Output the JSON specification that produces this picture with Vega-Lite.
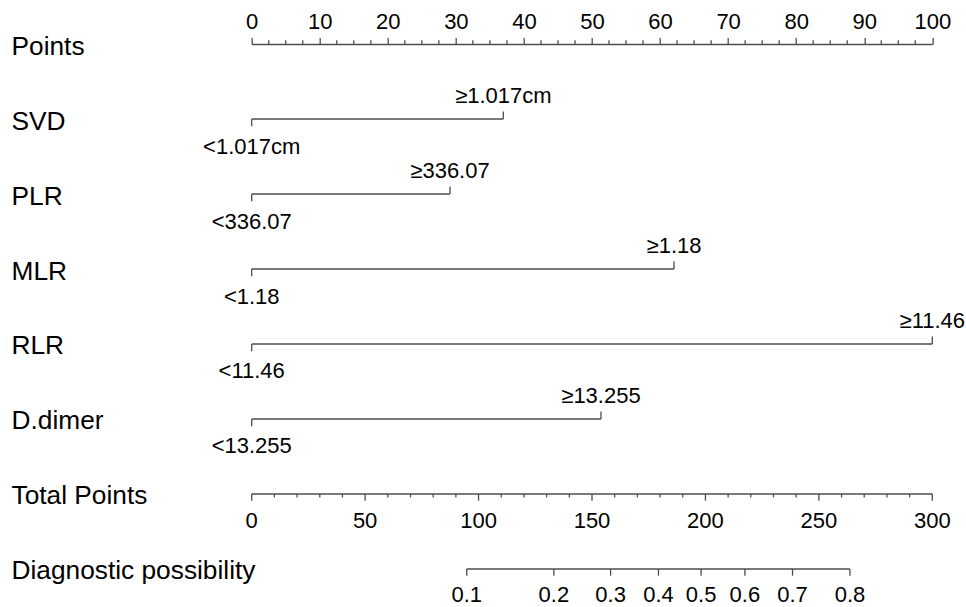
{
  "$schema": "https://vega.github.io/schema/vega-lite/v6.json",
  "width": 680.6,
  "height": 525,
  "autosize": {"type": "none"},
  "padding": {"left": 251.7, "top": 44, "right": 34, "bottom": 38},
  "background": "white",
  "config": {
    "view": {"stroke": null},
    "font": "Liberation Sans",
    "text": {"font": "Liberation Sans", "fontSize": 22, "color": "#000000"},
    "axisY": {
      "domain": false, "ticks": false, "tickSize": 0, "grid": false,
      "labelAlign": "left", "labelBaseline": "alphabetic", "labelOffset": 10,
      "labelPadding": 240.7, "labelFontSize": 26.3, "labelColor": "#000000",
      "labelFont": "Liberation Sans", "labelLimit": 500, "labelOverlap": false
    }
  },
  "datasets": {
    "vars": [
      {"row": "SVD", "lo": 0, "hi": 36.97, "loLab": "<1.017cm", "hiLab": "≥1.017cm"},
      {"row": "PLR", "lo": 0, "hi": 29.14, "loLab": "<336.07", "hiLab": "≥336.07"},
      {"row": "MLR", "lo": 0, "hi": 62.05, "loLab": "<1.18", "hiLab": "≥1.18"},
      {"row": "RLR", "lo": 0, "hi": 100, "loLab": "<11.46", "hiLab": "≥11.46"},
      {"row": "D.dimer", "lo": 0, "hi": 51.32, "loLab": "<13.255", "hiLab": "≥13.255"}
    ],
    "ptsMinor": [
      {"row": "Points", "pt": 2.5}, {"row": "Points", "pt": 5}, {"row": "Points", "pt": 7.5},
      {"row": "Points", "pt": 12.5}, {"row": "Points", "pt": 15}, {"row": "Points", "pt": 17.5},
      {"row": "Points", "pt": 22.5}, {"row": "Points", "pt": 25}, {"row": "Points", "pt": 27.5},
      {"row": "Points", "pt": 32.5}, {"row": "Points", "pt": 35}, {"row": "Points", "pt": 37.5},
      {"row": "Points", "pt": 42.5}, {"row": "Points", "pt": 45}, {"row": "Points", "pt": 47.5},
      {"row": "Points", "pt": 52.5}, {"row": "Points", "pt": 55}, {"row": "Points", "pt": 57.5},
      {"row": "Points", "pt": 62.5}, {"row": "Points", "pt": 65}, {"row": "Points", "pt": 67.5},
      {"row": "Points", "pt": 72.5}, {"row": "Points", "pt": 75}, {"row": "Points", "pt": 77.5},
      {"row": "Points", "pt": 82.5}, {"row": "Points", "pt": 85}, {"row": "Points", "pt": 87.5},
      {"row": "Points", "pt": 92.5}, {"row": "Points", "pt": 95}, {"row": "Points", "pt": 97.5}
    ],
    "tpMajor": [
      {"row": "Total Points", "tp": 0, "label": "0"},
      {"row": "Total Points", "tp": 50, "label": "50"},
      {"row": "Total Points", "tp": 100, "label": "100"},
      {"row": "Total Points", "tp": 150, "label": "150"},
      {"row": "Total Points", "tp": 200, "label": "200"},
      {"row": "Total Points", "tp": 250, "label": "250"},
      {"row": "Total Points", "tp": 300, "label": "300"}
    ],
    "tpMinor": [
      {"row": "Total Points", "tp": 10}, {"row": "Total Points", "tp": 20}, {"row": "Total Points", "tp": 30}, {"row": "Total Points", "tp": 40},
      {"row": "Total Points", "tp": 60}, {"row": "Total Points", "tp": 70}, {"row": "Total Points", "tp": 80}, {"row": "Total Points", "tp": 90},
      {"row": "Total Points", "tp": 110}, {"row": "Total Points", "tp": 120}, {"row": "Total Points", "tp": 130}, {"row": "Total Points", "tp": 140},
      {"row": "Total Points", "tp": 160}, {"row": "Total Points", "tp": 170}, {"row": "Total Points", "tp": 180}, {"row": "Total Points", "tp": 190},
      {"row": "Total Points", "tp": 210}, {"row": "Total Points", "tp": 220}, {"row": "Total Points", "tp": 230}, {"row": "Total Points", "tp": 240},
      {"row": "Total Points", "tp": 260}, {"row": "Total Points", "tp": 270}, {"row": "Total Points", "tp": 280}, {"row": "Total Points", "tp": 290}
    ],
    "scaleLines": [
      {"row": "Total Points", "from": 0, "to": 300},
      {"row": "Diagnostic possibility", "from": 94.8, "to": 263.7}
    ],
    "diag": [
      {"row": "Diagnostic possibility", "tp": 94.8, "p": "0.1"},
      {"row": "Diagnostic possibility", "tp": 133.2, "p": "0.2"},
      {"row": "Diagnostic possibility", "tp": 158.2, "p": "0.3"},
      {"row": "Diagnostic possibility", "tp": 179.3, "p": "0.4"},
      {"row": "Diagnostic possibility", "tp": 198.1, "p": "0.5"},
      {"row": "Diagnostic possibility", "tp": 217.4, "p": "0.6"},
      {"row": "Diagnostic possibility", "tp": 238.4, "p": "0.7"},
      {"row": "Diagnostic possibility", "tp": 263.7, "p": "0.8"}
    ]
  },
  "resolve": {"scale": {"x": "independent"}},
  "layer": [
    {
      "data": {"name": "ptsMinor"},
      "mark": {"type": "tick", "orient": "vertical", "size": 3.7, "thickness": 1.3, "yOffset": -1.85, "color": "#4d4d4d", "opacity": 1},
      "encoding": {
        "y": {
          "field": "row", "type": "nominal", "title": null,
          "scale": {"type": "point", "padding": 0, "domain": ["Points", "SVD", "PLR", "MLR", "RLR", "D.dimer", "Total Points", "Diagnostic possibility"]}
        },
        "x": {
          "field": "pt", "type": "quantitative", "title": null,
          "scale": {"domain": [0, 100], "nice": false, "zero": false},
          "axis": {
            "orient": "top", "values": [0, 10, 20, 30, 40, 50, 60, 70, 80, 90, 100],
            "domainColor": "#4d4d4d", "domainWidth": 1.3, "tickColor": "#4d4d4d", "tickWidth": 1.3,
            "tickSize": 6.6, "labelFontSize": 22, "labelColor": "#000000", "labelFont": "Liberation Sans",
            "labelBaseline": "alphabetic", "labelPadding": 9.1, "labelFlush": false, "labelBound": false,
            "labelOverlap": false, "grid": false
          }
        }
      }
    },
    {
      "data": {"name": "vars"},
      "mark": {"type": "rule", "color": "#4d4d4d", "strokeWidth": 1.3},
      "encoding": {
        "y": {"field": "row", "type": "nominal", "title": null},
        "x": {"field": "lo", "type": "quantitative", "axis": null, "scale": {"domain": [0, 100], "nice": false, "zero": false}},
        "x2": {"field": "hi"}
      }
    },
    {
      "data": {"name": "vars"},
      "mark": {"type": "tick", "orient": "vertical", "size": 7.3, "thickness": 1.3, "yOffset": 3.65, "color": "#4d4d4d", "opacity": 1},
      "encoding": {
        "y": {"field": "row", "type": "nominal", "title": null},
        "x": {"field": "lo", "type": "quantitative", "axis": null, "scale": {"domain": [0, 100], "nice": false, "zero": false}}
      }
    },
    {
      "data": {"name": "vars"},
      "mark": {"type": "tick", "orient": "vertical", "size": 7.5, "thickness": 1.3, "yOffset": -3.75, "color": "#4d4d4d", "opacity": 1},
      "encoding": {
        "y": {"field": "row", "type": "nominal", "title": null},
        "x": {"field": "hi", "type": "quantitative", "axis": null, "scale": {"domain": [0, 100], "nice": false, "zero": false}}
      }
    },
    {
      "data": {"name": "vars"},
      "mark": {"type": "text", "align": "center", "baseline": "alphabetic", "dy": -16},
      "encoding": {
        "y": {"field": "row", "type": "nominal", "title": null},
        "x": {"field": "hi", "type": "quantitative", "axis": null, "scale": {"domain": [0, 100], "nice": false, "zero": false}},
        "text": {"field": "hiLab"}
      }
    },
    {
      "data": {"name": "vars"},
      "mark": {"type": "text", "align": "center", "baseline": "alphabetic", "dy": 34.5},
      "encoding": {
        "y": {"field": "row", "type": "nominal", "title": null},
        "x": {"field": "lo", "type": "quantitative", "axis": null, "scale": {"domain": [0, 100], "nice": false, "zero": false}},
        "text": {"field": "loLab"}
      }
    },
    {
      "data": {"name": "scaleLines"},
      "mark": {"type": "rule", "color": "#4d4d4d", "strokeWidth": 1.3},
      "encoding": {
        "y": {"field": "row", "type": "nominal", "title": null},
        "x": {"field": "from", "type": "quantitative", "axis": null, "scale": {"domain": [0, 300], "nice": false, "zero": false}},
        "x2": {"field": "to"}
      }
    },
    {
      "data": {"name": "tpMajor"},
      "mark": {"type": "tick", "orient": "vertical", "size": 6.7, "thickness": 1.3, "yOffset": 3.35, "color": "#4d4d4d", "opacity": 1},
      "encoding": {
        "y": {"field": "row", "type": "nominal", "title": null},
        "x": {"field": "tp", "type": "quantitative", "axis": null, "scale": {"domain": [0, 300], "nice": false, "zero": false}}
      }
    },
    {
      "data": {"name": "tpMinor"},
      "mark": {"type": "tick", "orient": "vertical", "size": 3.4, "thickness": 1.3, "yOffset": 1.7, "color": "#4d4d4d", "opacity": 1},
      "encoding": {
        "y": {"field": "row", "type": "nominal", "title": null},
        "x": {"field": "tp", "type": "quantitative", "axis": null, "scale": {"domain": [0, 300], "nice": false, "zero": false}}
      }
    },
    {
      "data": {"name": "tpMajor"},
      "mark": {"type": "text", "align": "center", "baseline": "alphabetic", "dy": 34},
      "encoding": {
        "y": {"field": "row", "type": "nominal", "title": null},
        "x": {"field": "tp", "type": "quantitative", "axis": null, "scale": {"domain": [0, 300], "nice": false, "zero": false}},
        "text": {"field": "label"}
      }
    },
    {
      "data": {"name": "diag"},
      "mark": {"type": "tick", "orient": "vertical", "size": 6.7, "thickness": 1.3, "yOffset": 3.35, "color": "#4d4d4d", "opacity": 1},
      "encoding": {
        "y": {"field": "row", "type": "nominal", "title": null},
        "x": {"field": "tp", "type": "quantitative", "axis": null, "scale": {"domain": [0, 300], "nice": false, "zero": false}}
      }
    },
    {
      "data": {"name": "diag"},
      "mark": {"type": "text", "align": "center", "baseline": "alphabetic", "dy": 33},
      "encoding": {
        "y": {"field": "row", "type": "nominal", "title": null},
        "x": {"field": "tp", "type": "quantitative", "axis": null, "scale": {"domain": [0, 300], "nice": false, "zero": false}},
        "text": {"field": "p"}
      }
    }
  ]
}
